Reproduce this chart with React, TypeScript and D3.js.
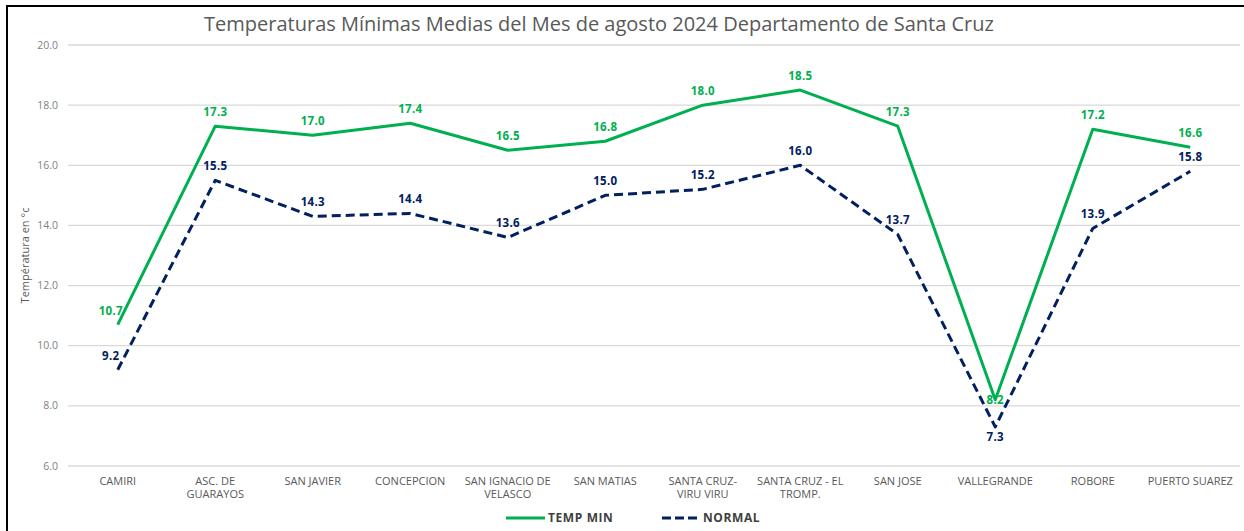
import React from "react";
import * as d3 from "d3";

const categories: string[][] = [
  ["CAMIRI"],
  ["ASC. DE", "GUARAYOS"],
  ["SAN JAVIER"],
  ["CONCEPCION"],
  ["SAN IGNACIO DE", "VELASCO"],
  ["SAN MATIAS"],
  ["SANTA CRUZ-", "VIRU VIRU"],
  ["SANTA CRUZ - EL", "TROMP."],
  ["SAN JOSE"],
  ["VALLEGRANDE"],
  ["ROBORE"],
  ["PUERTO SUAREZ"],
];
const tempMin = [10.7, 17.3, 17.0, 17.4, 16.5, 16.8, 18.0, 18.5, 17.3, 8.2, 17.2, 16.6];
const normal = [9.2, 15.5, 14.3, 14.4, 13.6, 15.0, 15.2, 16.0, 13.7, 7.3, 13.9, 15.8];
const yTicks = [6, 8, 10, 12, 14, 16, 18, 20];
const tempMinLabelPos = ["left", "above", "above", "above", "above", "above", "above", "above", "above", "center", "above", "above"];
const normalLabelPos = ["left", "above", "above", "above", "above", "above", "above", "above", "above", "below", "above", "above"];

const W = 1244;
const H = 531;
const GREEN = "#00b050";
const NAVY = "#002060";
const FONT = "'Open Sans', 'Liberation Sans', sans-serif";

export default function App() {
  const x = d3.scaleBand<number>().domain(d3.range(categories.length)).range([69, 1239]).paddingInner(0).paddingOuter(0);
  const cx = (i: number) => (x(i) as number) + x.bandwidth() / 2;
  const y = d3.scaleLinear().domain([6, 20]).range([466, 45]);

  const line = d3.line<number>().x((_, i) => cx(i)).y((d) => y(d));

  const labelXY = (i: number, v: number, pos: string) => {
    const px = cx(i);
    const py = y(v);
    if (pos === "left") return [px - 7, py - 10];
    if (pos === "center") return [px, py + 4];
    if (pos === "below") return [px, py + 14];
    return [px, py - 10];
  };

  return (
    <svg width={W} height={H} style={{ position: "absolute", left: 0, top: 0, background: "#fff" }} fontFamily={FONT}>
      <rect x={0} y={0} width={W} height={H} fill="#fff" />
      <line x1={7} x2={7} y1={6} y2={H} stroke="#000" strokeWidth={2} />
      <line x1={6} x2={W} y1={6} y2={6} stroke="#000" strokeWidth={2} />

      <text x={599} y={31} textAnchor="middle" fontSize={20} fill="#595959" fontFamily="'Open Sans', sans-serif">
        Temperaturas Mínimas Medias del Mes de agosto 2024 Departamento de Santa Cruz
      </text>

      {yTicks.map((t) => (
        <g key={t}>
          <line x1={68} x2={1240} y1={y(t)} y2={y(t)} stroke="#d9d9d9" strokeWidth={1.3} />
          <text x={58} y={y(t) + 3.5} textAnchor="end" fontSize={10.5} fill="#7f7f7f">
            {t.toFixed(1)}
          </text>
        </g>
      ))}

      <text transform={`translate(29,${y(13)}) rotate(-90)`} textAnchor="middle" fontSize={11} fill="#595959">
        Températura en °c
      </text>

      {categories.map((lines, i) => (
        <text key={i} x={cx(i)} y={485} textAnchor="middle" fontSize={11} fill="#595959">
          {lines.map((l, j) => (
            <tspan key={j} x={cx(i)} dy={j === 0 ? 0 : 13}>
              {l}
            </tspan>
          ))}
        </text>
      ))}

      <path d={line(tempMin) || ""} fill="none" stroke={GREEN} strokeWidth={3} strokeLinejoin="round" />
      <path d={line(normal) || ""} fill="none" stroke={NAVY} strokeWidth={3} strokeDasharray="9,5" strokeLinejoin="round" />

      {tempMin.map((v, i) => {
        const [lx, ly] = labelXY(i, v, tempMinLabelPos[i]);
        return (
          <text key={"g" + i} x={lx} y={ly} textAnchor="middle" fontSize={11.5} fontWeight="bold" fill={GREEN} letterSpacing={0.3}>
            {v.toFixed(1)}
          </text>
        );
      })}
      {normal.map((v, i) => {
        const [lx, ly] = labelXY(i, v, normalLabelPos[i]);
        return (
          <text key={"n" + i} x={lx} y={ly} textAnchor="middle" fontSize={11.5} fontWeight="bold" fill={NAVY} letterSpacing={0.3}>
            {v.toFixed(1)}
          </text>
        );
      })}

      <line x1={506} x2={545} y1={518} y2={518} stroke={GREEN} strokeWidth={3} />
      <text x={548} y={522} fontSize={12} fontWeight="bold" fill="#404040" letterSpacing={0.6}>TEMP MIN</text>
      <line x1={662} x2={698} y1={518} y2={518} stroke={NAVY} strokeWidth={3} strokeDasharray="9,4" />
      <text x={703} y={522} fontSize={12} fontWeight="bold" fill="#404040" letterSpacing={0.6}>NORMAL</text>
    </svg>
  );
}
